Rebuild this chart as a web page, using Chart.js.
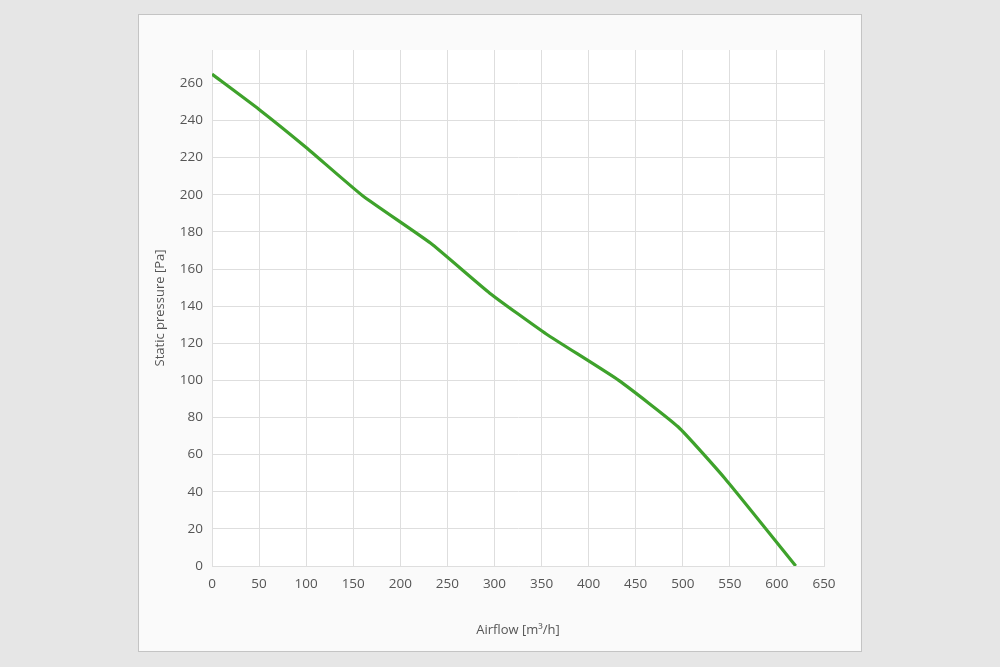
<!DOCTYPE html>
<html>
<head>
<meta charset="utf-8">
<script src="https://cdn.jsdelivr.net/npm/chart.js@4/dist/chart.umd.min.js"></script>
<style>
  html, body { margin: 0; padding: 0; background: #e6e6e6; }
  #panel {
    position: absolute; left: 138px; top: 14px;
    width: 722px; height: 636px;
    background: #fafafa; border: 1px solid #c4c4c4;
  }
  #chart { display: block; }
</style>
</head>
<body>
<div id="panel"><canvas id="chart" width="722" height="636"></canvas></div>
<script>
// airflow [m3/h] and static pressure [Pa]
const airflow = [0, 50, 100, 160, 232, 295, 355, 432, 495, 545, 620];
const pressure = [265, 246, 225.5, 199.5, 174, 147, 125, 100, 75, 47, 0];
const xTicksStep = 50;
const yTicksStep = 20;

const points = airflow.map((x, i) => ({ x: x, y: pressure[i] }));

const plotBg = {
  id: 'plotBg',
  beforeDraw(chart) {
    const a = chart.chartArea;
    chart.ctx.save();
    chart.ctx.fillStyle = '#ffffff';
    chart.ctx.fillRect(a.left, a.top, a.right - a.left, a.bottom - a.top);
    chart.ctx.restore();
  }
};

const tickFont = { family: 'Open Sans', size: 13.5 };
const titleFont = { family: 'Open Sans', size: 13 };

new Chart(document.getElementById('chart').getContext('2d'), {
  type: 'line',
  data: {
    datasets: [{
      data: points,
      borderColor: '#3ea22b',
      borderWidth: 3.2,
      pointRadius: 0,
      tension: 0.15,
      fill: false
    }]
  },
  options: {
    responsive: false,
    animation: false,
    layout: { padding: { left: 0, top: 35, right: 37, bottom: 0 } },
    plugins: { legend: { display: false }, tooltip: { enabled: false } },
    scales: {
      x: {
        type: 'linear',
        min: 0,
        max: 650,
        ticks: { stepSize: xTicksStep, color: '#555', font: tickFont, padding: 10, maxRotation: 0 },
        grid: { color: '#dedede', drawTicks: false },
        border: { color: '#dedede' },
        title: { display: true, text: 'Airflow [m³/h]', color: '#555', font: titleFont, padding: { top: 0, bottom: 13 } },
        afterFit(scale) { scale.height = 85; }
      },
      y: {
        min: 0,
        max: 278,
        ticks: { stepSize: yTicksStep, color: '#555', font: tickFont, padding: 9 },
        grid: { color: '#dedede', drawTicks: false },
        border: { color: '#dedede' },
        title: { display: true, text: 'Static pressure [Pa]', color: '#555', font: titleFont, padding: { top: 13, bottom: 0 } },
        afterBuildTicks(scale) {
          scale.ticks = scale.ticks.filter(t => t.value % yTicksStep === 0);
        },
        afterFit(scale) { scale.width = 73; }
      }
    }
  },
  plugins: [plotBg]
});
</script>
</body>
</html>
